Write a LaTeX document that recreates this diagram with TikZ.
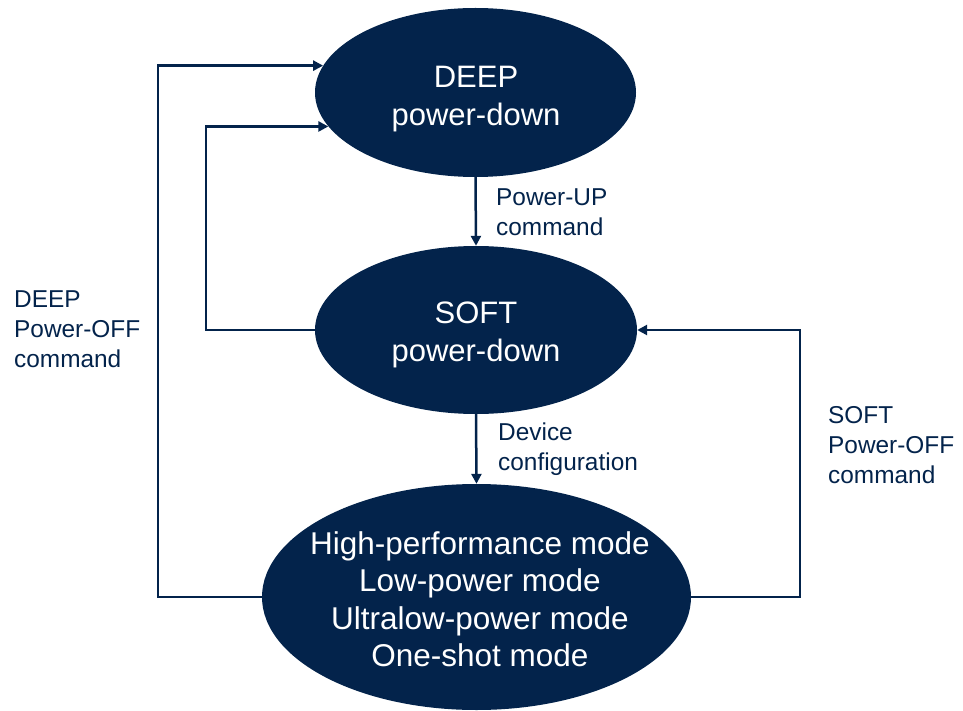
\documentclass[tikz,border=0pt]{standalone}
\usepackage{fontspec}
\setmainfont{Liberation Sans}
\usetikzlibrary{shapes.geometric,arrows.meta}
\definecolor{navy}{HTML}{03234B}
\begin{document}
\begin{tikzpicture}[x=1pt,y=-1pt,
  state/.style={ellipse, fill=navy, draw=none, inner sep=0pt},
  statetext/.style={text=white, font=\fontsize{31}{37.5}\selectfont, align=center, inner sep=0pt, anchor=north},
  lbl/.style={text=navy, font=\fontsize{24.4}{30}\selectfont, align=left, inner sep=0pt, anchor=north west},
  conn/.style={draw=navy, line width=2.5pt, -{Triangle[length=10pt,width=10pt]}}
]
\useasboundingbox (0,0) rectangle (963,711);
\node[state, minimum width=321pt, minimum height=169pt] (e1) at (475.5,92.5) {};
\node[state, minimum width=322pt, minimum height=168pt] (e2) at (476,330) {};
\node[state, minimum width=429pt, minimum height=226pt] (e3) at (476.5,597) {};

\node[statetext] (t1) at (476,66) {DEEP\\power-down};
\node[statetext] (t2) at (476,302) {SOFT\\power-down};
\node[statetext, font=\fontsize{31.5}{37.5}\selectfont] (t3) at (480,531) {High-performance mode\\Low-power mode\\Ultralow-power mode\\One-shot mode};

\draw[conn] (e1.south) -- (e2.north);
\draw[conn] (e2.south) -- (e3.north);
\draw[conn] (e3.west) -- ++(-104,0) |- (e1.170.5);
\draw[conn] (e2.west) -- ++(-109,0) |- (e1.193.25);
\draw[conn] (e3.east) -- ++(109,0) |- (e2.east);

\node[lbl] (l1) at (496,189) {Power-UP\\command};
\node[lbl] (l2) at (498,423) {Device\\configuration};
\node[lbl] (l3) at (828,406) {SOFT\\Power-OFF\\command};
\node[lbl] (l4) at (14,291) {DEEP\\Power-OFF\\command};
\end{tikzpicture}
\end{document}
